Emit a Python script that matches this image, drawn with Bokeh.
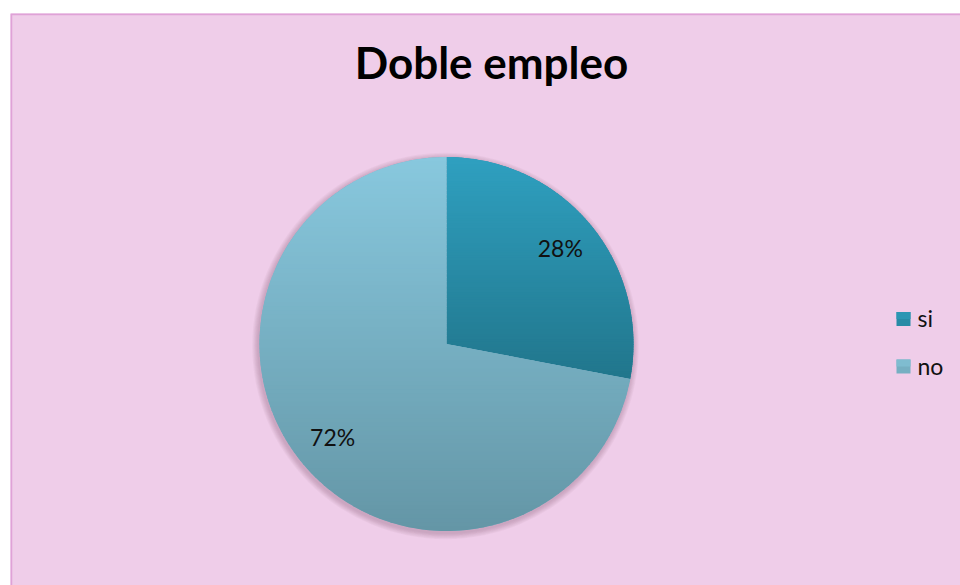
import math
import numpy as np
from bokeh.plotting import figure
from bokeh.models import Range1d
from bokeh.core.properties import value
from bokeh.embed import file_html
from bokeh.resources import INLINE

# ---- data ----
title_text = "Doble empleo"
categories = ["si", "no"]
values = [28, 72]
top_colors = ["#2FA0C0", "#88C8DE"]
bottom_colors = ["#21768C", "#6496A6"]

# ---- layout (pixel-like data coordinates, y = -pixel_y) ----
W, H = 960, 585
BG = "#EFCDE9"
BORDER = "#DFA2D7"
cx, cy, R = 446.0, -343.5, 187.0

p = figure(width=W, height=H, output_backend="svg", toolbar_location=None,
           x_axis_type=None, y_axis_type=None,
           x_range=Range1d(10, 960), y_range=Range1d(-585, -13),
           min_border=0, min_border_left=10, min_border_top=13,
           min_border_right=0, min_border_bottom=0)
p.border_fill_color = "white"
p.background_fill_color = BG
p.outline_line_color = None
p.grid.visible = False

# border (left + top edges visible)
p.quad(left=[10.5], right=[1200], top=[-13.5], bottom=[-900],
       fill_color=None, line_color=BORDER, line_width=2.5)

def hex2rgb(h):
    h = h.lstrip("#")
    return tuple(int(h[i:i + 2], 16) for i in (0, 2, 4))

def mix(c1, c2, t):
    a, b = hex2rgb(c1), hex2rgb(c2)
    return "#%02x%02x%02x" % tuple(int(round(a[i] + (b[i] - a[i]) * t)) for i in range(3))

def clip(poly, y0, keep_above):
    out = []
    n = len(poly)
    for i in range(n):
        P, Q = poly[i], poly[(i + 1) % n]
        inP = P[1] >= y0 if keep_above else P[1] <= y0
        inQ = Q[1] >= y0 if keep_above else Q[1] <= y0
        if inP:
            out.append(P)
        if inP != inQ:
            t = (y0 - P[1]) / (Q[1] - P[1])
            out.append((P[0] + t * (Q[0] - P[0]), y0))
    return out

# shadow
for k in range(7, 0, -1):
    p.circle(x=[cx - 1], y=[cy - 2], radius=R + k * 0.9, fill_color="#6a3a60",
             fill_alpha=0.045, line_color=None)

# slices: start at 12 o'clock, go clockwise
total = float(sum(values))
start = math.pi / 2
slices = []
for cat, v in zip(categories, values):
    sweep = 2 * math.pi * v / total
    end = start - sweep
    slices.append((cat, v, end, start))
    start = end

NB = 90
for i, (cat, v, a0, a1) in enumerate(slices):
    p.wedge(x=[cx], y=[cy], radius=R, start_angle=a0, end_angle=a1,
            fill_color=mix(top_colors[i], bottom_colors[i], 0.5), line_color=None)
    angs = np.linspace(a0, a1, 200)
    poly = [(cx, cy)] + [(cx + R * math.cos(a), cy + R * math.sin(a)) for a in angs]
    ys = [pt[1] for pt in poly]
    ytop, ybot = max(ys), min(ys)
    xs_l, ys_l, cols = [], [], []
    for b in range(NB):
        hi = ytop - (ytop - ybot) * b / NB
        lo = ytop - (ytop - ybot) * (b + 1) / NB
        pc = clip(clip(poly, lo - 0.4, True), hi + 0.4, False)
        if len(pc) < 3:
            continue
        xs_l.append([q[0] for q in pc])
        ys_l.append([q[1] for q in pc])
        cols.append(mix(top_colors[i], bottom_colors[i], (b + 0.5) / NB))
    p.patches(xs=xs_l, ys=ys_l, fill_color=cols, line_color=None)

# percentage labels
lx, ly, lt = [], [], []
for cat, v, a0, a1 in slices:
    mid = (a0 + a1) / 2
    lx.append(cx + 0.79 * R * math.cos(mid))
    ly.append(cy + 0.79 * R * math.sin(mid) + 1.5)
    lt.append("%d%%" % round(100 * v / total))
p.text(x=lx, y=ly, text=lt, text_align="center", text_baseline="middle",
       text_font=value("Lato"), text_font_size="23px", text_color="#111111")

# title
p.text(x=[491], y=[-61], text=[title_text], text_align="center",
       text_baseline="middle", text_font=value("Lato"),
       text_font_size="44px", text_font_style="bold", text_color="#000000")

# legend
leg_y = [-318.5, -366]
sq_x = 903
for i, cat in enumerate(categories):
    p.quad(left=[sq_x - 7], right=[sq_x + 7], top=[leg_y[i] + 7], bottom=[leg_y[i] - 7],
           fill_color=mix(top_colors[i], bottom_colors[i], 0.5), line_color=None)
    p.quad(left=[sq_x - 7], right=[sq_x + 7], top=[leg_y[i] + 7], bottom=[leg_y[i]],
           fill_color=mix(top_colors[i], bottom_colors[i], 0.25), line_color=None)
p.text(x=[917, 917], y=[leg_y[0] + 1, leg_y[1] + 1], text=categories, text_align="left",
       text_baseline="middle", text_font=value("Lato"), text_font_size="23px",
       text_color="#111111")

open("out.html", "w").write(file_html(p, INLINE))
